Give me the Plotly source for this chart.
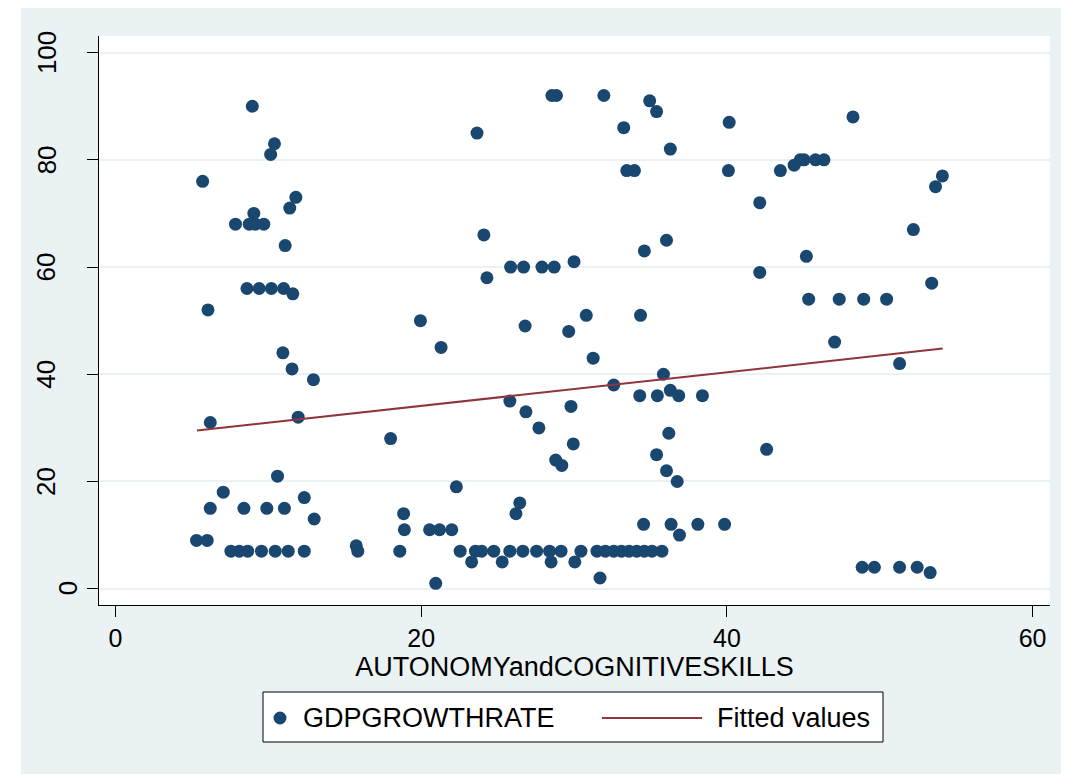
import plotly.graph_objects as go

# ---- data ----
autonomy = [
    8.95, 10.4, 10.15, 5.7, 11.8, 11.4, 9.05, 7.85, 8.75, 9.15, 9.7, 11.1,
    8.6, 9.4, 10.2, 11.0, 11.6, 6.05, 10.95, 11.55, 12.95, 6.2, 11.95, 10.6,
    7.05, 6.2, 8.4, 9.9, 11.05, 12.35, 13.0, 5.3, 6.0, 7.55, 8.1, 8.65, 9.55,
    10.45, 11.3, 12.35,
    28.55, 28.85, 23.65, 24.1, 25.85, 26.7, 27.9, 28.7, 30.0, 24.3, 19.95, 26.8,
    30.8, 29.65, 21.3, 18.0, 25.8, 26.85, 27.7, 29.8, 29.95, 28.8, 29.2, 22.3,
    26.45, 26.2, 18.85, 18.9, 20.55, 21.2, 22.0, 15.75, 15.85, 18.6,
    22.55, 23.55, 23.95, 24.75, 25.8, 26.65, 27.55, 28.4, 29.15, 30.45,
    23.3, 25.3, 28.5, 30.05, 20.95,
    31.95, 34.95, 35.4, 33.25, 40.15, 36.3, 33.45, 33.95, 40.1, 43.5, 44.4,
    44.8, 45.05, 45.8, 46.35, 42.15, 36.05, 34.6, 45.2, 42.15, 34.35, 45.35,
    31.25, 47.05, 35.85, 32.6, 34.3, 35.45, 36.3, 36.85, 38.4, 36.2, 35.4,
    36.05, 36.75, 42.6, 34.55, 36.35, 36.9, 38.1, 39.85,
    31.5, 32.05, 32.6, 33.1, 33.6, 34.1, 34.6, 35.1, 35.75, 31.7,
    48.25, 54.1, 53.65, 52.2, 53.4, 47.35, 48.95, 50.45, 51.3,
    48.85, 49.65, 51.3, 52.45, 53.3,
]
gdp_growth = [
    90, 83, 81, 76, 73, 71, 70, 68, 68, 68, 68, 64,
    56, 56, 56, 56, 55, 52, 44, 41, 39, 31, 32, 21,
    18, 15, 15, 15, 15, 17, 13, 9, 9, 7, 7, 7, 7,
    7, 7, 7,
    92, 92, 85, 66, 60, 60, 60, 60, 61, 58, 50, 49,
    51, 48, 45, 28, 35, 33, 30, 34, 27, 24, 23, 19,
    16, 14, 14, 11, 11, 11, 11, 8, 7, 7,
    7, 7, 7, 7, 7, 7, 7, 7, 7, 7,
    5, 5, 5, 5, 1,
    92, 91, 89, 86, 87, 82, 78, 78, 78, 78, 79,
    80, 80, 80, 80, 72, 65, 63, 62, 59, 51, 54,
    43, 46, 40, 38, 36, 36, 37, 36, 36, 29, 25,
    22, 20, 26, 12, 12, 10, 12, 12,
    7, 7, 7, 7, 7, 7, 7, 7, 7, 2,
    88, 77, 75, 67, 57, 54, 54, 54, 42,
    4, 4, 4, 4, 3,
]
fit_x = [5.33, 54.12]
fit_y = [29.5, 44.8]

x_ticks = [0, 20, 40, 60]
y_ticks = [0, 20, 40, 60, 80, 100]
y_tick_text = ["0", "20", "40", "60", "80", "100"]
x_title = "AUTONOMYandCOGNITIVESKILLS"
legend_labels = ["GDPGROWTHRATE", "Fitted values"]

NAVY = "#1A476F"
MAROON = "#90353B"
BG = "#EAF2F3"
FONT = "Liberation Sans, Arial, sans-serif"

fig = go.Figure()
fig.add_trace(go.Scatter(
    x=autonomy, y=gdp_growth, mode="markers", name=legend_labels[0],
    marker=dict(color=NAVY, size=13, line=dict(width=0)), showlegend=False))
fig.add_trace(go.Scatter(
    x=fit_x, y=fit_y, mode="lines", name=legend_labels[1],
    line=dict(color=MAROON, width=2), showlegend=False))

# page geometry (pixels in the 1069x774 window); the page body has an 8px margin
OFF = 8
W, H = 1069 - OFF, 774 - OFF
L, R, T, B = 99 - OFF, 1050 - OFF, 36 - OFF, 605 - OFF


def px(xp):
    return (xp - OFF - L) / (R - L)


def py(yp):
    return (B - (yp - OFF)) / (B - T)


shapes = [
    # white strip at the left, outside the light background
    dict(type="rect", xref="paper", yref="paper", x0=px(0), x1=px(20.5),
         y0=py(H + 20), y1=py(0), fillcolor="white", line=dict(width=0), layer="below"),
    # legend box
    dict(type="rect", xref="paper", yref="paper", x0=px(263), x1=px(883),
         y0=py(742), y1=py(692), fillcolor="white", line=dict(color="black", width=1)),
    dict(type="circle", xref="paper", yref="paper", x0=px(273.5), x1=px(286.5),
         y0=py(724.5), y1=py(711.5), fillcolor=NAVY, line=dict(width=0)),
    dict(type="line", xref="paper", yref="paper", x0=px(602), x1=px(702),
         y0=py(718), y1=py(718), line=dict(color=MAROON, width=2)),
]

annotations = [
    dict(text=legend_labels[0], xref="paper", yref="paper", x=px(301), y=py(718),
         xanchor="left", yanchor="middle", showarrow=False,
         font=dict(family=FONT, size=27, color="black")),
    dict(text=legend_labels[1], xref="paper", yref="paper", x=px(715), y=py(718),
         xanchor="left", yanchor="middle", showarrow=False,
         font=dict(family=FONT, size=27, color="black")),
]

# vertical y tick labels (single-digit label sits closer to the axis, Stata style)
for val, txt in zip(y_ticks, y_tick_text):
    cx = 88.5 - 21 * min(len(txt), 2)
    annotations.append(dict(
        text=txt, xref="paper", yref="y", x=px(cx), y=val,
        xanchor="center", yanchor="middle", textangle=-90, showarrow=False,
        font=dict(family=FONT, size=26, color="black")))

fig.update_layout(
    width=W, height=H, autosize=False,
    margin=dict(l=L, r=W - R, t=T, b=H - B, pad=0),
    paper_bgcolor=BG, plot_bgcolor="white",
    font=dict(family=FONT, color="black"),
    shapes=shapes, annotations=annotations,
    xaxis=dict(
        range=[-1.08, 61.14], tickvals=x_ticks, ticks="outside", ticklen=11,
        tickwidth=1, tickcolor="black", showline=True, linecolor="black", linewidth=1,
        showgrid=False, zeroline=False, tickfont=dict(size=25),
        title=dict(text=x_title, font=dict(size=27), standoff=0),
    ),
    yaxis=dict(
        range=[-3.04, 103.1], tickvals=y_ticks, ticks="outside", ticklen=11,
        tickwidth=1, tickcolor="black", showline=True, linecolor="black", linewidth=1,
        showgrid=True, gridcolor=BG, gridwidth=2, zeroline=False,
        showticklabels=False,
    ),
)

fig.write_html("out.html")
